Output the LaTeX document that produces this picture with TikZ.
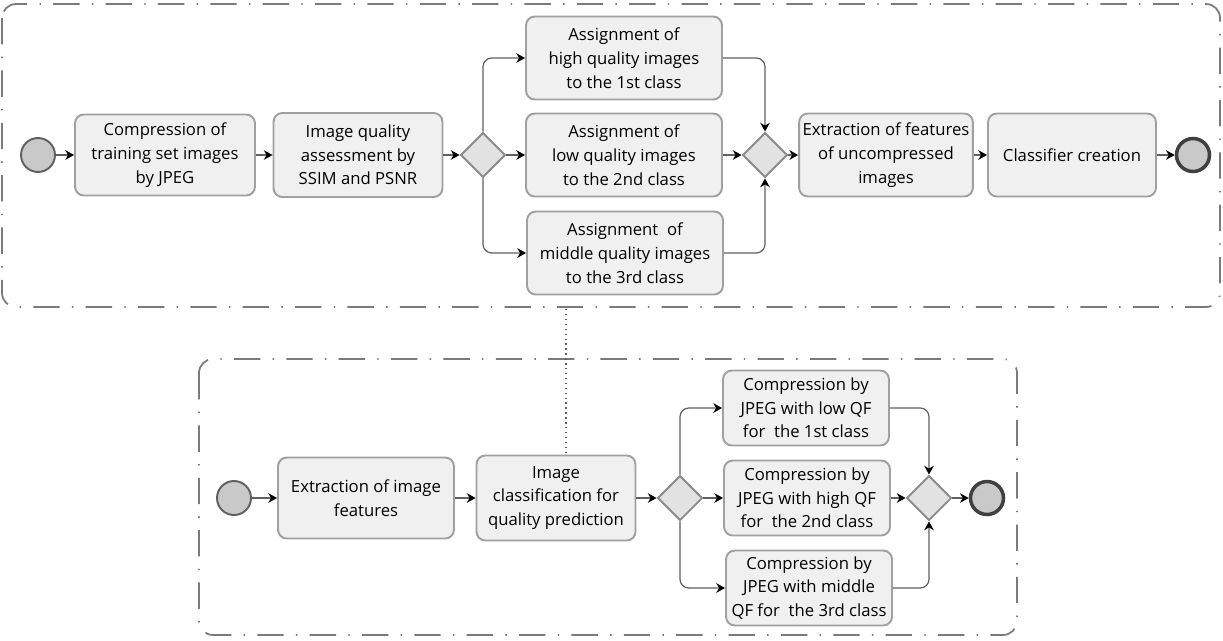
\documentclass[tikz,border=0pt]{standalone}
\usepackage{fontspec}
\setmainfont{Open Sans}
\usetikzlibrary{arrows.meta,shapes.geometric}
\definecolor{boxfill}{HTML}{F0F0F0}
\definecolor{boxline}{HTML}{A0A0A0}
\definecolor{gatefill}{HTML}{E2E2E2}
\definecolor{gateline}{HTML}{8A8A8A}
\definecolor{evfill}{HTML}{C9C9C9}
\definecolor{flowline}{HTML}{606060}
\definecolor{frameline}{HTML}{7A7A7A}
\begin{document}
\begin{tikzpicture}[x=0.02cm,y=-0.02cm]
    \tikzstyle{arrow} = [-{Stealth[length=5pt,width=5.5pt,black]}, draw=flowline, line width=0.7pt]
    \tikzstyle{barrow} = [arrow, rounded corners=5pt]
    \tikzstyle{task} = [rectangle, rounded corners=5pt, draw=boxline, fill=boxfill,
        line width=1.1pt, align=center, inner sep=2pt,
        font=\fontsize{9.5}{13.5}\selectfont]
    \tikzstyle{gate} = [diamond, draw=gateline, fill=gatefill, line width=1.1pt,
        minimum width=0.9cm, minimum height=0.9cm, inner sep=0pt]
    \tikzstyle{startev} = [circle, draw=flowline, fill=evfill, line width=1.1pt,
        minimum size=0.68cm, inner sep=0pt]
    \tikzstyle{endev} = [startev, draw=black!75, line width=2pt, minimum size=0.66cm]
    \tikzstyle{pool} = [draw=frameline, line width=1pt, rounded corners=8pt,
        dash pattern=on 15pt off 7pt on 0.8pt off 7pt]
    \tikzstyle{assoc} = [draw=flowline, line width=0.8pt, dotted]

    \useasboundingbox (0,0) rectangle (1223,640);
    \draw[pool] (2,4) rectangle (1220,307);
    \draw[pool] (199,359) rectangle (1017,635);

    % training phase
    \node(start1) [startev] at (38,155) {};
    \node(compress) [task, minimum width=3.6cm, minimum height=1.62cm]
        at (165,155) {Compression of\\training set images\\by JPEG};
    \node(assess) [task, minimum width=3.38cm, minimum height=1.68cm]
        at (358,155) {Image quality\\assessment by\\SSIM and PSNR};
    \node(split1) [gate] at (483,155) {};
    \node(highq) [task, minimum width=3.92cm, minimum height=1.66cm]
        at (624,58) {Assignment of\\high quality images\\to the 1st class};
    \node(lowq) [task, minimum width=3.92cm, minimum height=1.66cm]
        at (624,155) {Assignment of\\low quality images\\to the 2nd class};
    \node(midq) [task, minimum width=3.92cm, minimum height=1.66cm]
        at (625,253) {Assignment\ \ of\\middle quality images\\to the 3rd class};
    \node(join1) [gate] at (765,155) {};
    \node(features) [task, minimum width=3.42cm, minimum height=1.66cm]
        at (886,155) {Extraction of features\\of uncompressed\\images};
    \node(classifier) [task, minimum width=3.36cm, minimum height=1.66cm]
        at (1072,155) {Classifier creation};
    \node(end1) [endev] at (1193,155) {};

    \draw[arrow] (start1) -- (compress);
    \draw[arrow] (compress) -- (assess);
    \draw[arrow] (assess) -- (split1);
    \draw[barrow] (split1.north) |- (highq.west);
    \draw[arrow] (split1) -- (lowq);
    \draw[barrow] (split1.south) |- (midq.west);
    \draw[barrow] (highq.east) -| (join1.north);
    \draw[arrow] (lowq) -- (join1);
    \draw[barrow] (midq.east) -| (join1.south);
    \draw[arrow] (join1) -- (features);
    \draw[arrow] (features) -- (classifier);
    \draw[arrow] (classifier) -- (end1);

    % compression phase
    \node(start2) [startev] at (234,498) {};
    \node(extract) [task, minimum width=3.52cm, minimum height=1.62cm]
        at (366,498) {Extraction of image\\features};
    \node(classify) [task, minimum width=3.18cm, minimum height=1.7cm]
        at (556,498) {Image\\classification for\\quality prediction};
    \node(split2) [gate] at (680,498) {};
    \node(lowqf) [task, minimum width=3.32cm, minimum height=1.5cm]
        at (806,408) {Compression by\\JPEG with low QF\\for\ \ the 1st class};
    \node(highqf) [task, minimum width=3.32cm, minimum height=1.5cm]
        at (807,498) {Compression by\\JPEG with high QF\\for\ \ the 2nd class};
    \node(midqf) [task, minimum width=3.32cm, minimum height=1.5cm]
        at (809,588) {Compression by\\JPEG with middle\\QF for\ \ the 3rd class};
    \node(join2) [gate] at (929,498) {};
    \node(end2) [endev] at (987,498) {};

    \draw[arrow] (start2) -- (extract);
    \draw[arrow] (extract) -- (classify);
    \draw[arrow] (classify) -- (split2);
    \draw[barrow] (split2.north) |- (lowqf.west);
    \draw[arrow] (split2) -- (highqf);
    \draw[barrow] (split2.south) |- (midqf.west);
    \draw[barrow] (lowqf.east) -| (join2.north);
    \draw[arrow] (highqf) -- (join2);
    \draw[barrow] (midqf.east) -| (join2.south);
    \draw[arrow] (join2) -- (end2);

    \coordinate (poolbottom) at (566,309);
    \draw[assoc] (poolbottom) -- (poolbottom |- classify.north);
\end{tikzpicture}
\end{document}
